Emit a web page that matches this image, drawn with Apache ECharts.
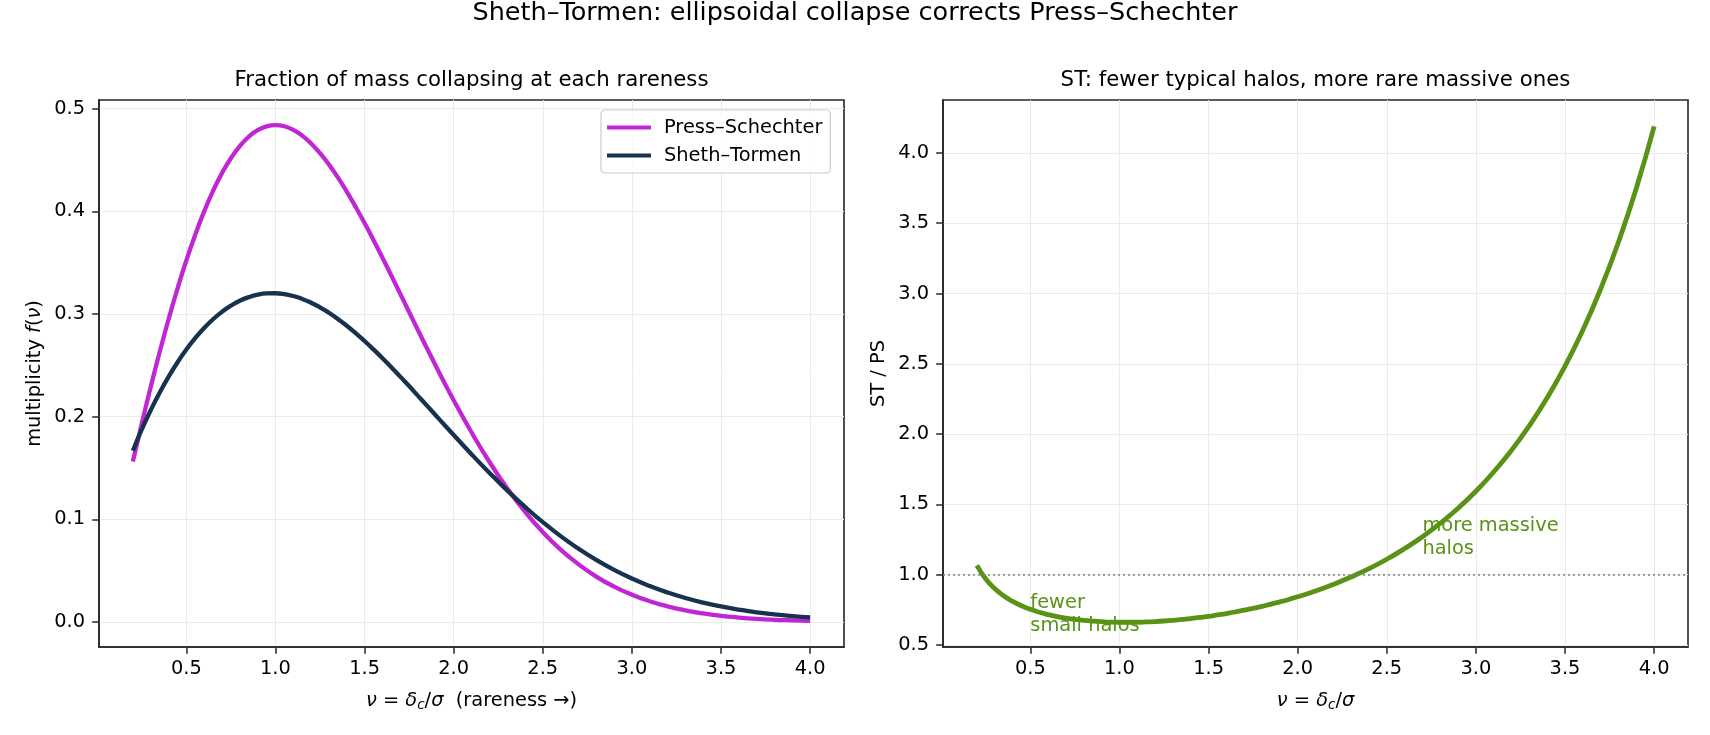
<!DOCTYPE html>
<html>
<head>
<meta charset="utf-8">
<script src="https://cdn.jsdelivr.net/npm/echarts@6/dist/echarts.min.js"></script>
<style>
  html, body { margin: 0; padding: 0; background: #fff; }
  #main { width: 1710px; height: 735px; }
</style>
</head>
<body>
<div id="main"></div>
<script>
// ν = δc/σ 取样点
var nu = [0.2, 0.25, 0.3, 0.35, 0.4, 0.45, 0.5, 0.55, 0.6, 0.65, 0.7, 0.75, 0.8, 0.85, 0.9, 0.95,
  1.0, 1.05, 1.1, 1.15, 1.2, 1.25, 1.3, 1.35, 1.4, 1.45, 1.5, 1.55, 1.6, 1.65, 1.7, 1.75, 1.8, 1.85, 1.9, 1.95,
  2.0, 2.1, 2.2, 2.3, 2.4, 2.5, 2.6, 2.7, 2.8, 2.9, 3.0, 3.1, 3.2, 3.3, 3.4, 3.5, 3.6, 3.7, 3.8, 3.9, 4.0];
// Press-Schechter 多重函数 f(ν)
var pressSchechter = [0.1564, 0.1933, 0.2288, 0.2627, 0.2946, 0.3245, 0.3521, 0.3772, 0.3999, 0.4199,
  0.4372, 0.4517, 0.4635, 0.4726, 0.4790, 0.4827, 0.4839, 0.4828, 0.4793, 0.4737, 0.4661, 0.4566,
  0.4456, 0.4330, 0.4192, 0.4043, 0.3886, 0.3720, 0.3549, 0.3375, 0.3197, 0.3020, 0.2842, 0.2667,
  0.2494, 0.2324, 0.2160, 0.1848, 0.1561, 0.1303, 0.1075, 0.0876, 0.0706, 0.0563, 0.0443, 0.0345,
  0.0266, 0.0203, 0.0153, 0.0114, 0.0084, 0.0061, 0.0044, 0.0031, 0.0022, 0.0016, 0.0011];
// Sheth-Tormen 多重函数 f(ν)
var shethTormen = [0.1668, 0.1876, 0.2063, 0.2234, 0.2388, 0.2528, 0.2654, 0.2765, 0.2864, 0.2949,
  0.3021, 0.3081, 0.3129, 0.3164, 0.3188, 0.3200, 0.3202, 0.3194, 0.3175, 0.3147, 0.3110, 0.3065,
  0.3012, 0.2952, 0.2886, 0.2814, 0.2737, 0.2655, 0.2570, 0.2482, 0.2390, 0.2298, 0.2203, 0.2108,
  0.2012, 0.1916, 0.1821, 0.1634, 0.1454, 0.1282, 0.1122, 0.0973, 0.0837, 0.0715, 0.0605, 0.0508,
  0.0424, 0.0351, 0.0288, 0.0234, 0.0189, 0.0152, 0.0121, 0.0095, 0.0075, 0.0058, 0.0045];
// ST / PS 比值
var ratio = [1.067, 0.970, 0.902, 0.850, 0.811, 0.779, 0.754, 0.733, 0.716, 0.702,
  0.691, 0.682, 0.675, 0.670, 0.666, 0.663, 0.662, 0.662, 0.662, 0.664, 0.667, 0.671,
  0.676, 0.682, 0.688, 0.696, 0.704, 0.714, 0.724, 0.735, 0.748, 0.761, 0.775, 0.791,
  0.807, 0.824, 0.843, 0.884, 0.931, 0.984, 1.043, 1.110, 1.186, 1.270, 1.366, 1.473,
  1.594, 1.731, 1.885, 2.060, 2.258, 2.483, 2.740, 3.032, 3.366, 3.748, 4.188];
// 刻度
var xTicks = [0.5, 1.0, 1.5, 2.0, 2.5, 3.0, 3.5, 4.0];
var leftYTicks = [0.0, 0.1, 0.2, 0.3, 0.4, 0.5];
var rightYTicks = [0.5, 1.0, 1.5, 2.0, 2.5, 3.0, 3.5, 4.0];

var FONT = 'DejaVu Sans';
var INK = '#262626';

function pairs(ys) {
  return nu.map(function (x, i) { return [x, ys[i]]; });
}

var myChart = echarts.init(document.getElementById('main'), null, { renderer: 'canvas' });

var mathRich = {
  i: { fontFamily: FONT, fontStyle: 'italic', fontSize: 19.4, color: '#000' },
  sub: { fontFamily: FONT, fontStyle: 'italic', fontSize: 13.5, color: '#000', padding: [9, 0, 0, 0] },
  n: { fontFamily: FONT, fontSize: 19.4, color: '#000' }
};

function xAxisOpt(gridIndex, name) {
  return {
    type: 'value', gridIndex: gridIndex, min: 0.01, max: 4.19, splitNumber: 8,
    name: name, nameLocation: 'middle', nameGap: 42,
    nameTextStyle: { fontFamily: FONT, fontSize: 19.4, color: '#000', rich: mathRich },
    axisLine: { show: true, onZero: false, lineStyle: { color: INK, width: 1.6 } },
    axisTick: { show: true, length: 6.8, customValues: xTicks, lineStyle: { color: INK, width: 1.5 } },
    axisLabel: {
      customValues: xTicks, margin: 12, fontFamily: FONT, fontSize: 19.4, color: '#000',
      formatter: function (v) { return v.toFixed(1); }
    },
    splitLine: { show: true, lineStyle: { color: '#ebebeb', width: 1 } }
  };
}

function yAxisOpt(gridIndex, min, max, splitNumber, ticks, name) {
  return {
    type: 'value', gridIndex: gridIndex, min: min, max: max, splitNumber: splitNumber,
    name: name, nameLocation: 'middle', nameGap: 55, nameRotate: 90,
    nameTextStyle: { fontFamily: FONT, fontSize: 19.4, color: '#000', rich: mathRich },
    axisLine: { show: true, onZero: false, lineStyle: { color: INK, width: 1.6 } },
    axisTick: { show: true, length: 6.8, customValues: ticks, lineStyle: { color: INK, width: 1.5 } },
    axisLabel: {
      customValues: ticks, margin: 14, fontFamily: FONT, fontSize: 19.4, color: '#000',
      formatter: function (v) { return v.toFixed(1); }
    },
    splitLine: { show: true, lineStyle: { color: '#ebebeb', width: 1 } }
  };
}

var option = {
  animation: false,
  backgroundColor: '#fff',
  title: [
    { text: 'Sheth–Tormen: ellipsoidal collapse corrects Press–Schechter', left: 855, top: 0, textAlign: 'center', padding: 0,
      textStyle: { fontFamily: FONT, fontSize: 25.5, fontWeight: 'normal', color: '#000' } },
    { text: 'Fraction of mass collapsing at each rareness', left: 471.5, top: 70, textAlign: 'center', padding: 0,
      textStyle: { fontFamily: FONT, fontSize: 21.3, fontWeight: 'normal', color: '#000' } },
    { text: 'ST: fewer typical halos, more rare massive ones', left: 1315.5, top: 70, textAlign: 'center', padding: 0,
      textStyle: { fontFamily: FONT, fontSize: 21.3, fontWeight: 'normal', color: '#000' } }
  ],
  grid: [
    { left: 99, right: 866, top: 100, bottom: 88, show: true, borderColor: INK, borderWidth: 1.6, backgroundColor: 'transparent' },
    { left: 943, right: 22, top: 100, bottom: 88, show: true, borderColor: INK, borderWidth: 1.6, backgroundColor: 'transparent' }
  ],
  legend: {
    left: 601, top: 110, orient: 'vertical', icon: 'rect',
    itemWidth: 44, itemHeight: 4, itemGap: 9,
    padding: [8, 8, 8, 6],
    borderColor: '#cccccc', borderWidth: 1.2, borderRadius: 4, backgroundColor: 'rgba(255,255,255,0.8)',
    textStyle: { fontFamily: FONT, fontSize: 19.4, color: '#000', padding: [0, 0, 0, 8] },
    data: ['Press–Schechter', 'Sheth–Tormen']
  },
  xAxis: [
    xAxisOpt(0, '{i|ν}{n| = }{i|δ}{sub|c}{n|/}{i|σ}{n|  (rareness →)}'),
    xAxisOpt(1, '{i|ν}{n| = }{i|δ}{sub|c}{n|/}{i|σ}')
  ],
  yAxis: [
    yAxisOpt(0, -0.0243, 0.5084, 5, leftYTicks, '{n|multiplicity }{i|f}{n|(}{i|ν}{n|)}'),
    yAxisOpt(1, 0.486, 4.376, 8, rightYTicks, 'ST / PS')
  ],
  series: [
    {
      name: 'Press–Schechter', type: 'line', xAxisIndex: 0, yAxisIndex: 0,
      data: pairs(pressSchechter), smooth: true, showSymbol: false, symbol: 'none',
      lineStyle: { color: '#c026d3', width: 4.3 }, itemStyle: { color: '#c026d3' }, z: 3
    },
    {
      name: 'Sheth–Tormen', type: 'line', xAxisIndex: 0, yAxisIndex: 0,
      data: pairs(shethTormen), smooth: true, showSymbol: false, symbol: 'none',
      lineStyle: { color: '#16324f', width: 4.3 }, itemStyle: { color: '#16324f' }, z: 4
    },
    {
      name: 'ST / PS', type: 'line', xAxisIndex: 1, yAxisIndex: 1,
      data: pairs(ratio), smooth: true, showSymbol: false, symbol: 'none',
      lineStyle: { color: '#5a9216', width: 4.8 }, itemStyle: { color: '#5a9216' }, z: 4,
      markLine: {
        silent: true, symbol: 'none', label: { show: false },
        lineStyle: { color: '#808080', width: 1.6, type: [2, 3] },
        data: [{ yAxis: 1.0 }]
      }
    }
  ]
};

myChart.setOption(option);

// 注释文字，锚点按数据坐标换算成像素
var notes = [
  { text: 'fewer\nsmall halos', at: [0.5, 0.76] },
  { text: 'more massive\nhalos', at: [2.7, 1.31] }
];
myChart.setOption({
  graphic: notes.map(function (n) {
    var p = myChart.convertToPixel({ gridIndex: 1 }, n.at);
    return {
      type: 'text', x: p[0], y: p[1] - 17, z: 10,
      style: { text: n.text, fill: '#5a9216', fontFamily: FONT, fontSize: 19.4, lineHeight: 23, align: 'left', verticalAlign: 'top' }
    };
  })
});

window.addEventListener('resize', function () {
  myChart.resize();
});
</script>
</body>
</html>
